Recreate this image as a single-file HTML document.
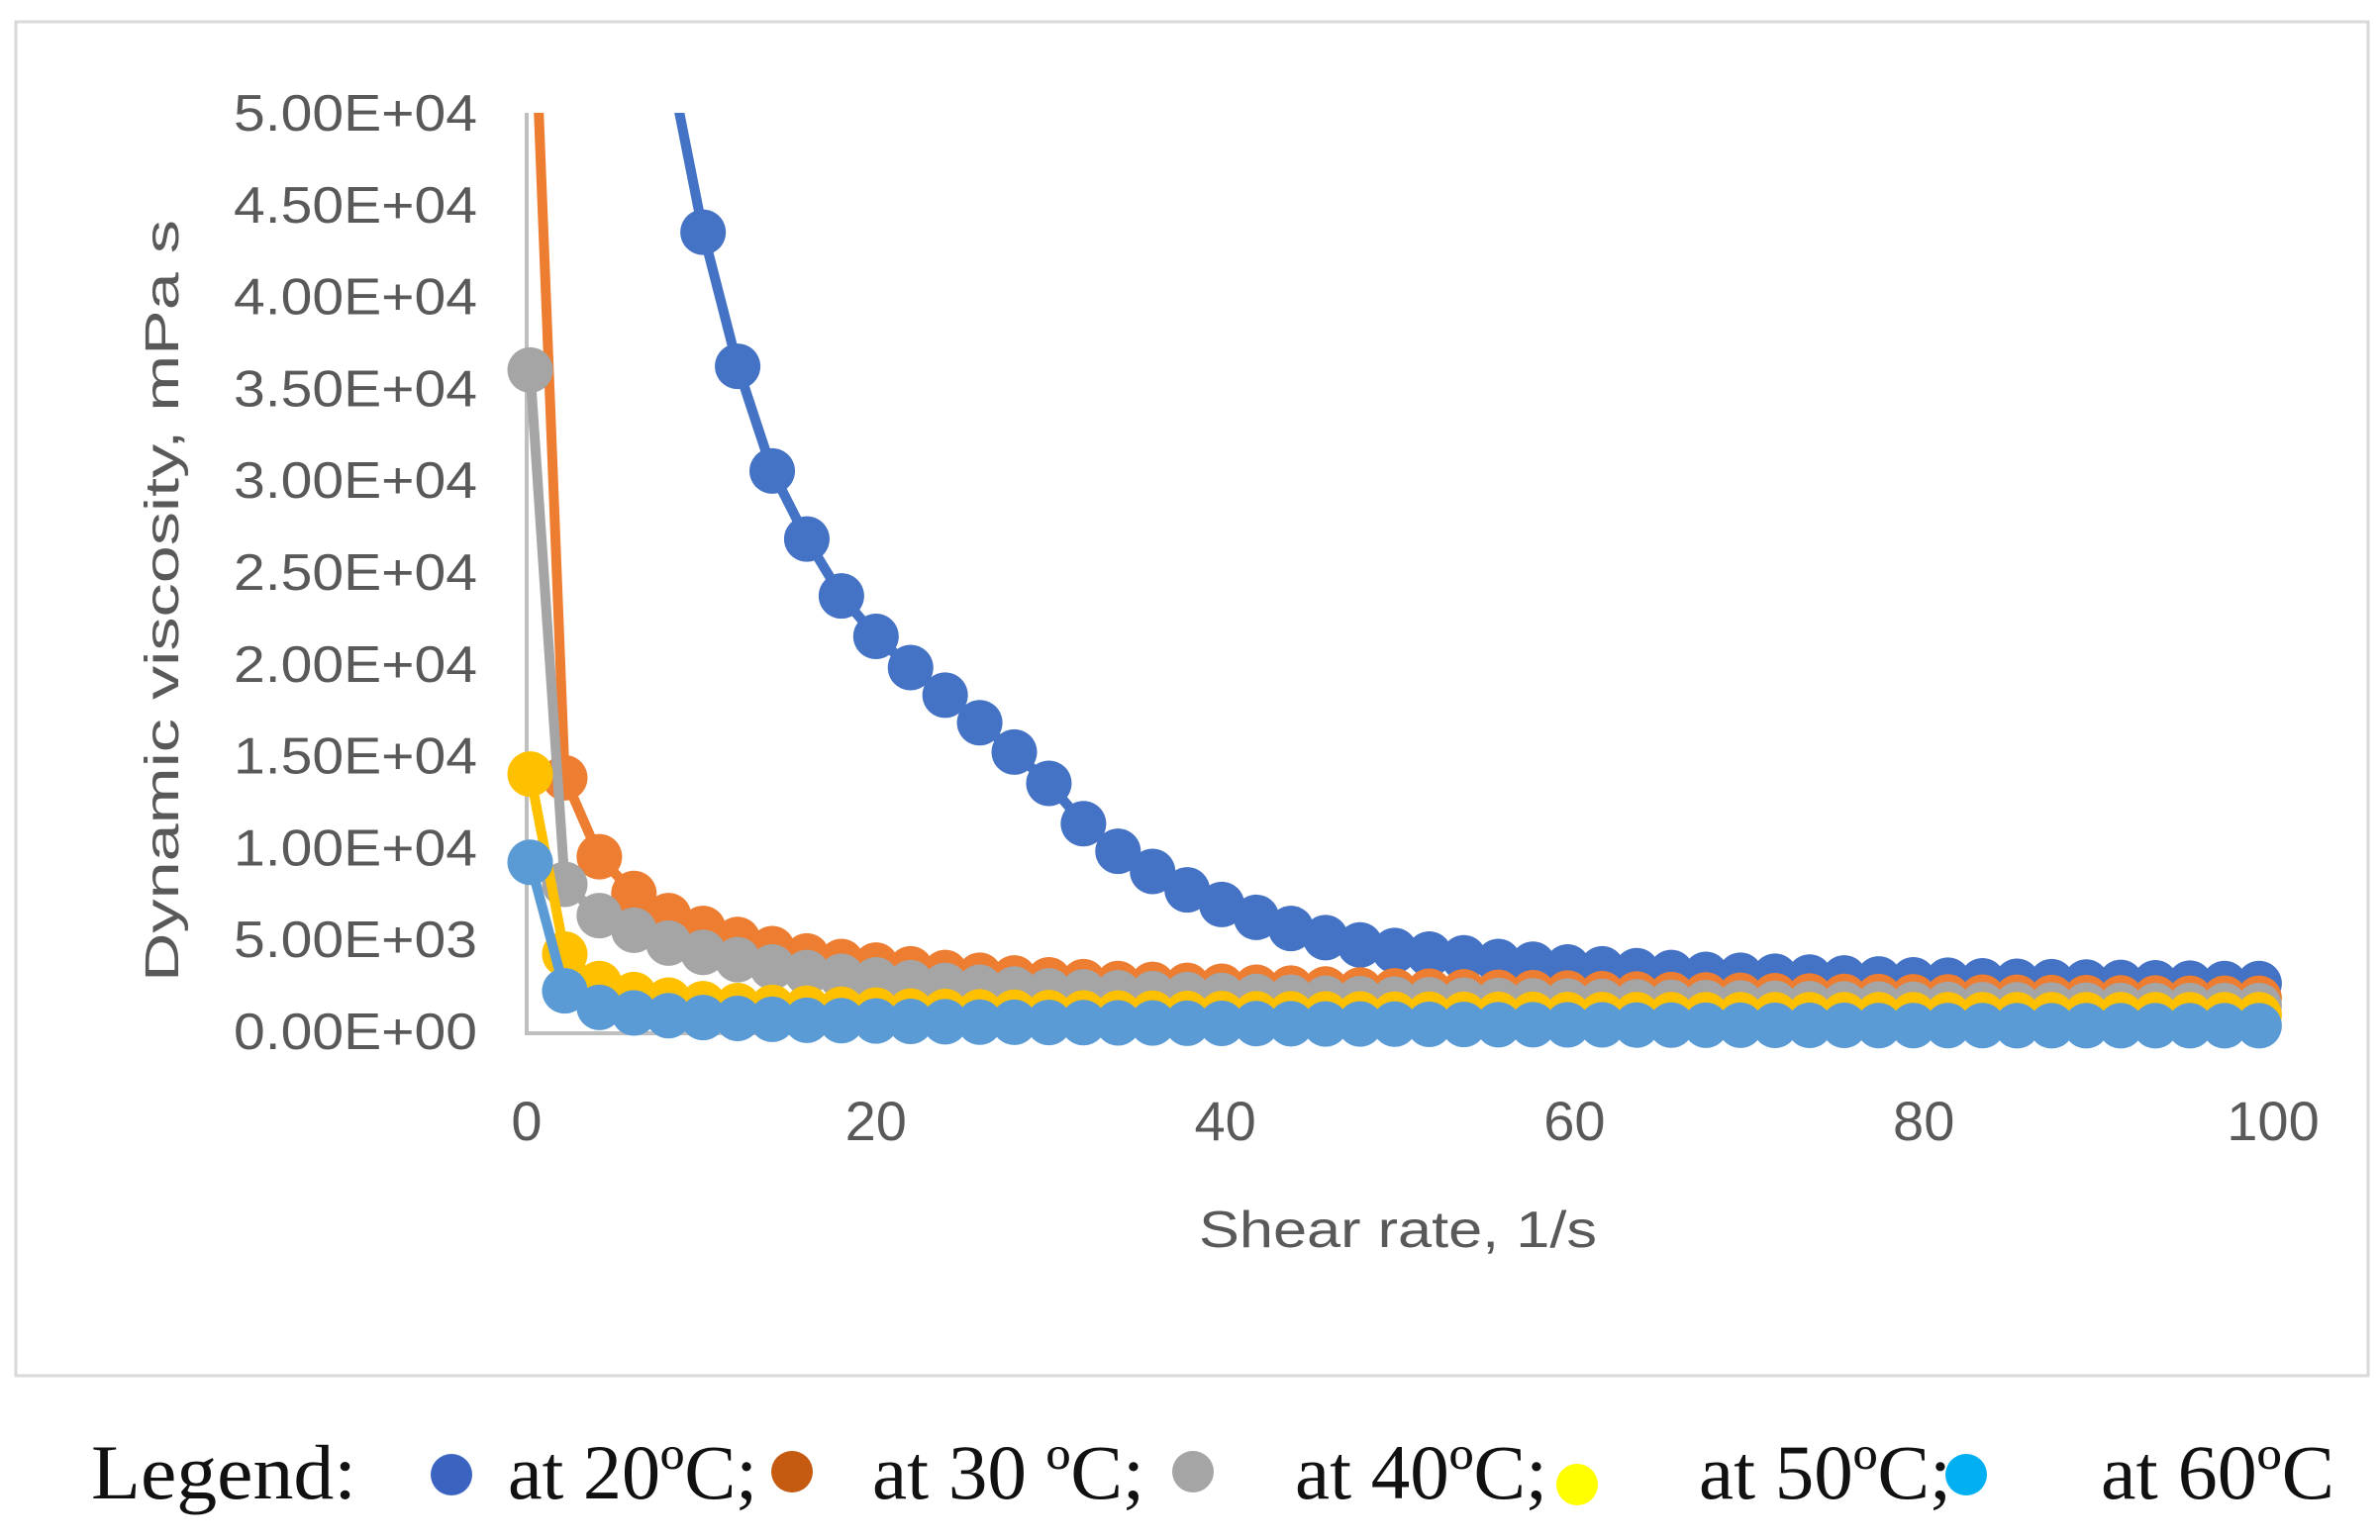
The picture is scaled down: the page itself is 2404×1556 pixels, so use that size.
<!DOCTYPE html>
<html><head><meta charset="utf-8"><style>
html,body{margin:0;padding:0;background:#fff;}
svg{display:block;}
</style></head><body>
<svg id="chart" width="2404" height="1556" viewBox="0 0 2404 1556" xmlns="http://www.w3.org/2000/svg">
<rect x="16" y="22" width="2376" height="1368" fill="#fff" stroke="#d9d9d9" stroke-width="3"/>
<defs><clipPath id="plotclip"><rect x="400" y="114" width="1990" height="1200"/></clipPath></defs>
<g id="yticks"></g>
<g id="xticks"></g>
<line x1="532" y1="114" x2="532" y2="1046" stroke="#bfbfbf" stroke-width="4"/>
<line x1="532" y1="1044" x2="2296" y2="1044" stroke="#bfbfbf" stroke-width="4"/>
<g id="series" clip-path="url(#plotclip)"></g>
<text x="180" y="607" transform="rotate(-90 180 607)" text-anchor="middle" font-family="Liberation Sans, sans-serif" font-size="48" fill="#595959" textLength="770" lengthAdjust="spacingAndGlyphs">Dynamic viscosity, mPa s</text>
<text x="1412" y="1260" text-anchor="middle" font-family="Liberation Sans, sans-serif" font-size="52" fill="#595959" textLength="402" lengthAdjust="spacingAndGlyphs">Shear rate, 1/s</text>
<g font-family="Liberation Serif, serif" font-size="78" fill="#111">
<text x="92" y="1514" textLength="268" lengthAdjust="spacingAndGlyphs">Legend:</text>
<circle cx="456" cy="1490" r="21" fill="#3b64c0"/>
<text x="513" y="1514" textLength="252" lengthAdjust="spacingAndGlyphs">at 20ºC;</text>
<circle cx="800" cy="1487" r="21" fill="#c55a11"/>
<text x="881" y="1514" textLength="275" lengthAdjust="spacingAndGlyphs">at 30 ºC;</text>
<circle cx="1205" cy="1487" r="21" fill="#a5a5a5"/>
<text x="1308" y="1514" textLength="255" lengthAdjust="spacingAndGlyphs">at 40ºC;</text>
<circle cx="1593" cy="1500" r="21" fill="#ffff00"/>
<text x="1716" y="1514" textLength="255" lengthAdjust="spacingAndGlyphs">at 50ºC;</text>
<circle cx="1986" cy="1490" r="21" fill="#00b0f0"/>
<text x="2122" y="1514" textLength="236" lengthAdjust="spacingAndGlyphs">at 60ºC</text>
</g>
</svg>
<script>
const yTickLabels = ["0.00E+00","5.00E+03","1.00E+04","1.50E+04","2.00E+04","2.50E+04","3.00E+04","3.50E+04","4.00E+04","4.50E+04","5.00E+04"];
const yTickValues = [0,5000,10000,15000,20000,25000,30000,35000,40000,45000,50000];
const xTickValues = [0,20,40,60,80,100];
const shearRateStart = 0.2;
const shearRateStep = 1.98;
const visc20 = [150000,120000,90000,70000,53000,43500,36200,30500,26800,23700,21500,19800,18300,16800,15200,13500,11300,9800,8700,7700,6900,6200,5600,5100,4700,4400,4200,4000,3800,3650,3500,3400,3300,3200,3100,3050,3000,2950,2900,2850,2800,2780,2750,2720,2700,2680,2660,2640,2620,2600,2600];
const visc30 = [62000,13800,9500,7500,6300,5600,5000,4500,4100,3800,3600,3400,3200,3050,2900,2800,2700,2600,2550,2500,2450,2400,2350,2300,2250,2200,2180,2150,2120,2100,2080,2050,2030,2000,1980,1960,1940,1920,1900,1890,1880,1870,1860,1850,1840,1830,1820,1810,1800,1800,1800];
const visc40 = [36000,8000,6300,5500,4800,4300,3900,3500,3200,3000,2800,2650,2500,2400,2300,2200,2150,2100,2050,2000,1950,1900,1850,1800,1780,1750,1720,1700,1680,1660,1640,1620,1600,1580,1560,1540,1520,1500,1490,1480,1470,1460,1450,1440,1430,1420,1410,1400,1400,1400,1400];
const visc50 = [14000,4200,2600,2000,1700,1500,1400,1300,1250,1200,1150,1100,1080,1060,1040,1020,1000,990,980,970,960,950,950,940,940,930,930,920,920,920,910,910,910,900,900,900,900,900,900,900,900,900,900,900,900,900,900,900,900,900,900];
const visc60 = [9200,2200,1300,1000,850,750,700,650,600,580,560,540,520,500,490,480,470,460,450,440,430,420,410,400,400,390,380,370,360,360,350,350,340,340,330,330,320,320,320,310,310,310,310,300,300,300,300,300,300,300,300];

const NS = "http://www.w3.org/2000/svg";
const X0 = 532, X1 = 2296, Y0 = 1042, Y1 = 114;
function xs(v){ return X0 + (v/100)*(X1-X0); }
function ys(v){ return Y0 - (v/50000)*(Y0-Y1); }

const yt = document.getElementById('yticks');
yTickValues.forEach((v,i)=>{
  const t = document.createElementNS(NS,'text');
  
  
  t.setAttribute('x',482); t.setAttribute('y',ys(v)+18);
  t.setAttribute('text-anchor','end');
  t.setAttribute('font-family','Liberation Sans, sans-serif');
  t.setAttribute('font-size','52'); t.setAttribute('fill','#595959');
  t.setAttribute('textLength','246'); t.setAttribute('lengthAdjust','spacingAndGlyphs');
  t.textContent = yTickLabels[i];
  yt.appendChild(t);
});
const xt = document.getElementById('xticks');
xTickValues.forEach(v=>{
  const t = document.createElementNS(NS,'text');
  
  
  t.setAttribute('x',xs(v)); t.setAttribute('y',1152);
  t.setAttribute('text-anchor','middle');
  t.setAttribute('font-family','Liberation Sans, sans-serif');
  t.setAttribute('font-size','56'); t.setAttribute('fill','#595959');
  t.textContent = String(v);
  xt.appendChild(t);
});

const seriesList = [
  {name:'series-20c', vals:visc20, color:'#4472c4'},
  {name:'series-30c', vals:visc30, color:'#ed7d31'},
  {name:'series-40c', vals:visc40, color:'#a5a5a5'},
  {name:'series-50c', vals:visc50, color:'#ffc000'},
  {name:'series-60c', vals:visc60, color:'#5b9bd5'}
];
const sg = document.getElementById('series');
seriesList.forEach(s=>{
  const g = document.createElementNS(NS,'g');
  
  
  const pts = s.vals.map((v,k)=> xs(shearRateStart+k*shearRateStep).toFixed(1)+','+ys(v).toFixed(1)).join(' ');
  const pl = document.createElementNS(NS,'polyline');
  
  
  pl.setAttribute('points', pts);
  pl.setAttribute('fill','none'); pl.setAttribute('stroke', s.color);
  pl.setAttribute('stroke-width','10'); pl.setAttribute('stroke-linejoin','round');
  g.appendChild(pl);
  s.vals.forEach((v,k)=>{
    const c = document.createElementNS(NS,'circle');
    
    
    c.setAttribute('cx', xs(shearRateStart+k*shearRateStep));
    c.setAttribute('cy', ys(v));
    c.setAttribute('r', 23);
    c.setAttribute('fill', s.color);
    g.appendChild(c);
  });
  sg.appendChild(g);
});
</script>
</body></html>
